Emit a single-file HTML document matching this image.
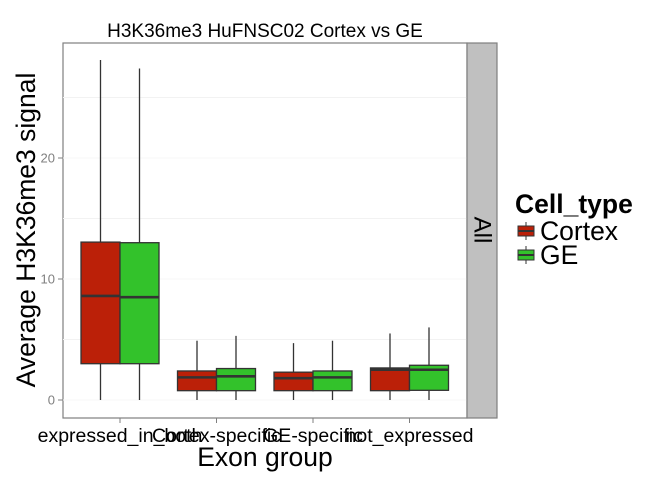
<!DOCTYPE html>
<html><head><meta charset="utf-8"><style>
body{margin:0;background:#fff;}
svg text{font-family:"Liberation Sans",Arial,sans-serif;}
</style></head><body>
<svg id="c" width="672" height="480" xmlns="http://www.w3.org/2000/svg">
<rect width="672" height="480" fill="#fff"/>
<text x="265" y="37" font-size="19" text-anchor="middle">H3K36me3 HuFNSC02 Cortex vs GE</text>
<rect x="63" y="43" width="404" height="375" fill="#fff" stroke="#7f7f7f" stroke-width="1.2"/>
<g id="grid"></g>
<g id="boxes"></g>
<g id="axes"></g>
<rect x="467" y="43" width="30" height="375" fill="#c0c0c0" stroke="#7f7f7f" stroke-width="1.2"/>
<text x="482" y="230" font-size="24" text-anchor="middle" dominant-baseline="central" transform="rotate(90 482 230)">All</text>
<text x="35" y="230" font-size="26.5" text-anchor="middle" transform="rotate(-90 35 230)">Average H3K36me3 signal</text>
<text x="265" y="466" font-size="26.5" text-anchor="middle">Exon group</text>
<g>
<text x="515" y="213" font-size="26.5" font-weight="bold">Cell_type</text>
<g>
<line x1="526" y1="222" x2="526" y2="240" stroke="#333"/>
<rect x="518" y="226" width="16" height="10" fill="#bb2008" stroke="#333"/><line x1="518" y1="231" x2="534" y2="231" stroke="#333" stroke-width="2"/>
<text x="540" y="240" font-size="26.5">Cortex</text></g>
<g>
<line x1="526" y1="246" x2="526" y2="264" stroke="#333"/>
<rect x="518" y="250" width="16" height="10" fill="#33c22b" stroke="#333"/><line x1="518" y1="255" x2="534" y2="255" stroke="#333" stroke-width="2"/>
<text x="540" y="264" font-size="26.5">GE</text></g>
</g>
</svg>
<script>
const categories=["expressed_in_both","Cortex-specific","GE-specific","not_expressed"];
const seriesNames=["Cortex","GE"];
const seriesColors=["#bb2008","#33c22b"];
const cortexMax=[28.1,4.9,4.7,5.5];
const cortexQ3=[13.05,2.4,2.3,2.65];
const cortexMed=[8.6,1.87,1.8,2.5];
const cortexQ1=[3.0,0.77,0.77,0.77];
const cortexMin=[0,0,0,0];
const geMax=[27.4,5.3,4.9,6.0];
const geQ3=[13.0,2.6,2.4,2.87];
const geMed=[8.5,1.96,1.87,2.5];
const geQ1=[3.0,0.77,0.77,0.8];
const geMin=[0,0,0,0];
const yTicks=[0,10,20];
const yMinor=[5,15,25];

const NS="http://www.w3.org/2000/svg";
const y=v=>400-v*12.1;
const x=i=>120+i*96.5;
function mk(tag,attrs,parent){const e=document.createElementNS(NS,tag);for(const k in attrs)e.setAttribute(k,attrs[k]);parent.appendChild(e);return e;}
const grid=document.getElementById('grid'),boxes=document.getElementById('boxes'),axes=document.getElementById('axes');
yMinor.forEach(v=>{const l=mk('line',{x1:63,x2:467,y1:y(v),y2:y(v),stroke:'#f2f2f2','stroke-width':1},grid);

});
yTicks.forEach(v=>{const l=mk('line',{x1:63,x2:467,y1:y(v),y2:y(v),stroke:'#f7f7f7','stroke-width':1},grid);


const t=mk('line',{x1:58,x2:63,y1:y(v),y2:y(v),stroke:'#7f7f7f'},axes);


const tx=mk('text',{x:55,y:y(v)+4.5,'font-size':13,fill:'#7f7f7f','text-anchor':'end'},axes);tx.textContent=v;

});
categories.forEach((c,i)=>{const t=mk('line',{x1:x(i),x2:x(i),y1:418,y2:423,stroke:'#7f7f7f'},axes);


const tx=mk('text',{x:x(i),y:442,'font-size':19.5,'text-anchor':'middle'},axes);tx.textContent=c;

});
const S=[[cortexMin,cortexQ1,cortexMed,cortexQ3,cortexMax],[geMin,geQ1,geMed,geQ3,geMax]];
const bw=39;
categories.forEach((c,i)=>{S.forEach((s,j)=>{
 const x0=x(i)+(j===0?-bw:0),cx=x0+bw/2;
 const g=mk('g',{},boxes);
 
 
 mk('line',{x1:cx,x2:cx,y1:y(s[4][i]),y2:y(s[3][i]),stroke:'#333','stroke-width':1.3},g);
 mk('line',{x1:cx,x2:cx,y1:y(s[1][i]),y2:y(s[0][i]),stroke:'#333','stroke-width':1.3},g);
 mk('rect',{x:x0,y:y(s[3][i]),width:bw,height:y(s[1][i])-y(s[3][i]),fill:seriesColors[j],stroke:'#333','stroke-width':1.3},g);
 mk('line',{x1:x0,x2:x0+bw,y1:y(s[2][i]),y2:y(s[2][i]),stroke:'#333','stroke-width':2.6},g);
});});
</script>
</body></html>
